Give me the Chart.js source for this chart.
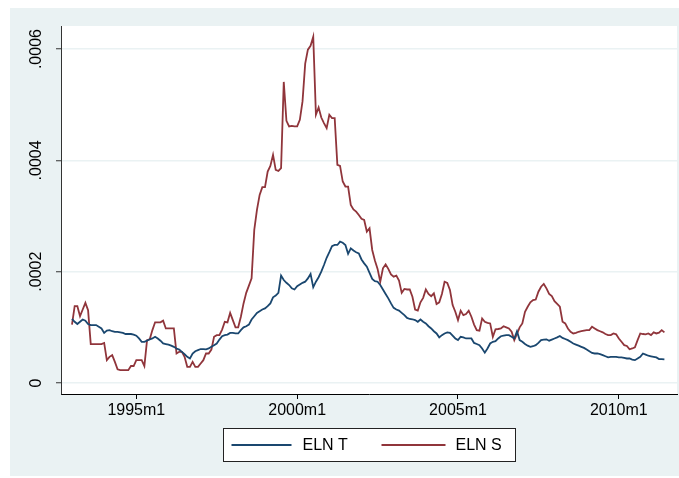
<!DOCTYPE html>
<html>
<head>
<meta charset="utf-8">
<title>ELN T / ELN S</title>
<script src="https://cdn.jsdelivr.net/npm/chart.js@4"></script>
<style>
  html, body { margin: 0; padding: 0; background: #fff; }
  canvas { display: block; }
</style>
</head>
<body>
<canvas id="elnChart" width="679" height="478"></canvas>
<script>
// data bulanan mulai 1993m1, nilai dalam satuan 1e-4
var startYear = 1993;
var seriesLabels = ['ELN T', 'ELN S'];

var elnT = [
  1.15, 1.10, 1.06, 1.10, 1.14, 1.12, 1.06, 1.04, 1.04, 1.04, 1.01, 0.98,
  0.90, 0.94, 0.95, 0.93, 0.92, 0.92, 0.91, 0.90, 0.88, 0.88, 0.88, 0.87,
  0.85, 0.80, 0.74, 0.74, 0.76, 0.785, 0.80, 0.83, 0.80, 0.76, 0.71, 0.70,
  0.69, 0.67, 0.65, 0.62, 0.60, 0.56, 0.52, 0.47, 0.44, 0.53, 0.57, 0.59,
  0.61, 0.61, 0.605, 0.62, 0.65, 0.68, 0.71, 0.78, 0.84, 0.86, 0.87, 0.90,
  0.90, 0.89, 0.89, 0.95, 1.00, 1.02, 1.05, 1.14, 1.20, 1.26, 1.29, 1.32,
  1.34, 1.38, 1.43, 1.54, 1.57, 1.62, 1.93, 1.85, 1.80, 1.76, 1.70, 1.68,
  1.74, 1.77, 1.80, 1.82, 1.88, 1.96, 1.72, 1.82, 1.90, 2.00, 2.12, 2.25,
  2.35, 2.46, 2.48, 2.48, 2.54, 2.52, 2.48, 2.32, 2.42, 2.38, 2.35, 2.33,
  2.22, 2.15, 2.09, 1.98, 1.87, 1.83, 1.82, 1.76, 1.68, 1.60, 1.52, 1.43,
  1.35, 1.32, 1.30, 1.26, 1.22, 1.17, 1.15, 1.145, 1.13, 1.10, 1.14, 1.10,
  1.07, 1.02, 0.98, 0.93, 0.89, 0.82, 0.86, 0.89, 0.91, 0.90, 0.85, 0.80,
  0.77, 0.83, 0.82, 0.80, 0.80, 0.80, 0.72, 0.70, 0.68, 0.62, 0.545, 0.62,
  0.71, 0.74, 0.75, 0.80, 0.84, 0.85, 0.86, 0.86, 0.83, 0.80, 0.93, 0.77,
  0.74, 0.70, 0.67, 0.65, 0.66, 0.68, 0.72, 0.77, 0.78, 0.785, 0.76, 0.78,
  0.80, 0.82, 0.845, 0.81, 0.79, 0.77, 0.74, 0.71, 0.69, 0.67, 0.65, 0.63,
  0.60, 0.57, 0.54, 0.53, 0.53, 0.52, 0.50, 0.48, 0.46, 0.47, 0.47, 0.47,
  0.46, 0.46, 0.45, 0.44, 0.44, 0.42, 0.41, 0.44, 0.47, 0.53, 0.51, 0.49,
  0.48, 0.47, 0.46, 0.43, 0.43, 0.425
];

var elnS = [
  1.05, 1.38, 1.38, 1.20, 1.32, 1.44, 1.31, 0.70, 0.70, 0.70, 0.70, 0.70,
  0.72, 0.41, 0.47, 0.50, 0.38, 0.245, 0.23, 0.23, 0.23, 0.23, 0.305, 0.305,
  0.41, 0.41, 0.41, 0.305, 0.77, 0.785, 0.95, 1.09, 1.09, 1.09, 1.12, 0.98,
  0.98, 0.98, 0.98, 0.53, 0.56, 0.56, 0.47, 0.29, 0.29, 0.38, 0.29, 0.29,
  0.35, 0.41, 0.53, 0.53, 0.60, 0.83, 0.86, 0.86, 0.96, 1.10, 1.09, 1.26,
  1.13, 1.00, 1.00, 1.19, 1.43, 1.62, 1.75, 1.88, 2.75, 3.11, 3.38, 3.52,
  3.52, 3.80, 3.90, 4.10, 3.83, 3.81, 3.86, 5.41, 4.71, 4.61, 4.62, 4.61,
  4.61, 4.73, 5.06, 5.74, 5.99, 6.06, 6.22, 4.82, 4.95, 4.77, 4.67, 4.58,
  4.82, 4.76, 4.76, 3.92, 3.90, 3.62, 3.53, 3.53, 3.20, 3.12, 3.08, 3.02,
  2.95, 2.93, 2.72, 2.78, 2.39, 2.20, 2.05, 1.82, 2.06, 2.13, 2.05, 1.95,
  1.91, 1.93, 1.84, 1.62, 1.69, 1.68, 1.68, 1.55, 1.32, 1.30, 1.45, 1.53,
  1.68, 1.60, 1.56, 1.61, 1.42, 1.45, 1.60, 1.82, 1.80, 1.67, 1.40, 1.28,
  1.13, 1.30, 1.22, 1.24, 1.30, 1.19, 1.05, 0.95, 0.94, 1.16, 1.10, 1.08,
  1.07, 0.83, 0.965, 0.97, 0.98, 1.02, 1.00, 0.98, 0.92, 0.77, 0.88, 1.00,
  1.07, 1.28, 1.37, 1.45, 1.49, 1.50, 1.64, 1.73, 1.78, 1.70, 1.60, 1.56,
  1.47, 1.42, 1.37, 1.10, 1.07, 0.98, 0.92, 0.89, 0.90, 0.92, 0.93, 0.94,
  0.95, 0.95, 1.01, 0.98, 0.95, 0.93, 0.91, 0.88, 0.86, 0.86, 0.89, 0.875,
  0.80, 0.74, 0.68, 0.665, 0.605, 0.62, 0.64, 0.77, 0.89, 0.88, 0.875, 0.89,
  0.86, 0.91, 0.89, 0.905, 0.95, 0.91
];

var xTickLabels = ['1995m1', '2000m1', '2005m1', '2010m1'];
var yTickValues = [0, 2, 4, 6];
var yTickLabels = ['0', '.0002', '.0004', '.0006'];

// ubah label "1995m1" jadi indeks bulan sejak startYear
function monthIndex(label) {
    var parts = label.split('m');
    return (parseInt(parts[0], 10) - startYear) * 12 + parseInt(parts[1], 10) - 1;
}

function toPoints(values) {
    return values.map(function (v, i) { return { x: i, y: v }; });
}

var xTickValues = xTickLabels.map(monthIndex);

// latar belakang gaya Stata
var stataBackground = {
    id: 'stataBackground',
    beforeDraw: function (chart) {
        var ctx = chart.ctx;
        var a = chart.chartArea;
        ctx.save();
        ctx.fillStyle = '#eaf2f3';
        ctx.fillRect(10, 8, chart.width - 10, chart.height - 10);
        ctx.fillStyle = '#ffffff';
        ctx.fillRect(a.left, a.top, a.right - a.left, a.bottom - a.top);
        ctx.restore();
    }
};

// legenda dengan kotak, di tengah area plot
var boxedLegend = {
    id: 'boxedLegend',
    afterDraw: function (chart) {
        var ctx = chart.ctx;
        var a = chart.chartArea;
        var boxW = 292, boxH = 33;
        var left = Math.round((a.left + a.right) / 2 - boxW / 2) + 0.5;
        var top = 428.5;
        ctx.save();
        ctx.fillStyle = '#ffffff';
        ctx.fillRect(left, top, boxW, boxH);
        ctx.strokeStyle = '#222';
        ctx.lineWidth = 1;
        ctx.strokeRect(left, top, boxW, boxH);
        ctx.font = '16px "Liberation Sans", Arial, sans-serif';
        ctx.textBaseline = 'middle';
        ctx.fillStyle = '#000';
        var midY = top + boxH / 2;
        var offsets = [[8, 68, 79], [158, 222, 232]];
        chart.data.datasets.forEach(function (ds, k) {
            var o = offsets[k];
            ctx.strokeStyle = ds.borderColor;
            ctx.lineWidth = 1.8;
            ctx.beginPath();
            ctx.moveTo(left + o[0], midY);
            ctx.lineTo(left + o[1], midY);
            ctx.stroke();
            ctx.fillText(ds.label, left + o[2], midY + 1);
        });
        ctx.restore();
    }
};

Chart.defaults.font.family = '"Liberation Sans", Arial, sans-serif';
Chart.defaults.font.size = 16;
Chart.defaults.color = '#000';

var ctxEln = document.getElementById('elnChart').getContext('2d');
new Chart(ctxEln, {
    type: 'line',
    data: {
        datasets: [{
            label: seriesLabels[0],
            data: toPoints(elnT),
            borderColor: '#1a476f',
            borderWidth: 1.8,
            pointRadius: 0,
            tension: 0,
            fill: false
        }, {
            label: seriesLabels[1],
            data: toPoints(elnS),
            borderColor: '#90353b',
            borderWidth: 1.8,
            pointRadius: 0,
            tension: 0,
            fill: false
        }]
    },
    options: {
        responsive: false,
        devicePixelRatio: 1,
        animation: false,
        layout: { padding: { left: 10, top: 26, right: 2, bottom: 54 } },
        plugins: {
            legend: { display: false },
            tooltip: { enabled: false }
        },
        scales: {
            x: {
                type: 'linear',
                min: -4.1,
                max: 225.7,
                afterFit: function (scale) { scale.height = 30; },
                afterBuildTicks: function (scale) {
                    scale.ticks = xTickValues.map(function (v) { return { value: v }; });
                },
                ticks: {
                    padding: 2,
                    maxRotation: 0,
                    callback: function (value) {
                        var k = xTickValues.indexOf(value);
                        return k >= 0 ? xTickLabels[k] : '';
                    }
                },
                grid: {
                    drawOnChartArea: false,
                    tickLength: 5,
                    tickColor: '#000',
                    tickWidth: 1
                },
                border: { color: '#000', width: 1 }
            },
            y: {
                min: -0.198,
                max: 6.415,
                afterFit: function (scale) { scale.width = 51; },
                afterBuildTicks: function (scale) {
                    scale.ticks = yTickValues.map(function (v) { return { value: v }; });
                },
                ticks: {
                    minRotation: 90,
                    maxRotation: 90,
                    crossAlign: 'center',
                    padding: -1,
                    callback: function (value) {
                        var k = yTickValues.indexOf(value);
                        return k >= 0 ? yTickLabels[k] : '';
                    }
                },
                grid: {
                    color: '#eaf2f3',
                    lineWidth: 1.5,
                    tickLength: 5,
                    tickColor: '#333',
                    tickWidth: 1
                },
                border: { color: '#333', width: 1 }
            }
        }
    },
    plugins: [stataBackground, boxedLegend]
});
</script>
</body>
</html>
